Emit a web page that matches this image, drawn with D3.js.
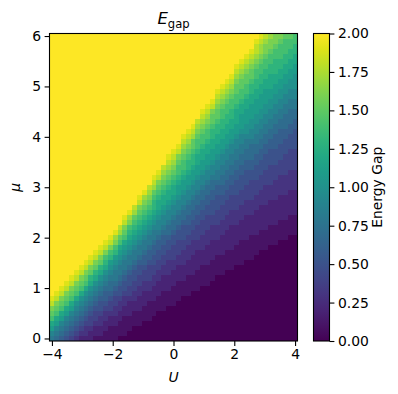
<!DOCTYPE html>
<html>
<head>
<meta charset="utf-8">
<script src="https://cdn.jsdelivr.net/npm/d3@7"></script>
<style>
  body { margin: 0; background: #fff; }
  svg { display: block; font-family: "DejaVu Sans", sans-serif; }
</style>
</head>
<body>
<div id="chart"></div>
<script>
// scan grid: interaction U (columns) and chemical potential mu (rows)
const uValues = [-4, -3.84, -3.68, -3.52, -3.36, -3.2, -3.04, -2.88, -2.72, -2.56, -2.4, -2.24, -2.08,
  -1.92, -1.76, -1.6, -1.44, -1.28, -1.12, -0.96, -0.8, -0.64, -0.48, -0.32, -0.16, 0,
  0.16, 0.32, 0.48, 0.64, 0.8, 0.96, 1.12, 1.28, 1.44, 1.6, 1.76, 1.92, 2.08, 2.24, 2.4,
  2.56, 2.72, 2.88, 3.04, 3.2, 3.36, 3.52, 3.68, 3.84, 4];
const muValues = [0, 0.1, 0.2, 0.3, 0.4, 0.5, 0.6, 0.7, 0.8, 0.9, 1, 1.1, 1.2, 1.3, 1.4, 1.5,
  1.6, 1.7, 1.8, 1.9, 2, 2.1, 2.2, 2.3, 2.4, 2.5, 2.6, 2.7, 2.8, 2.9, 3, 3.1, 3.2, 3.3, 3.4,
  3.5, 3.6, 3.7, 3.8, 3.9, 4, 4.1, 4.2, 4.3, 4.4, 4.5, 4.6, 4.7, 4.8, 4.9, 5, 5.1, 5.2, 5.3,
  5.4, 5.5, 5.6, 5.7, 5.8, 5.9, 6];

// gap, one column per U value, going up in mu.
// darkRows = rows at 0.0 from mu=0, then one char per row
// ("0".."9" = 0.0..0.9, "A".."K" = 1.0..2.0), the rest is saturated at 2.0
const darkRows = [0, 0, 0, 0, 0, 0, 0, 0, 0, 0, 0, 0, 0, 0, 1, 1, 2, 3, 3, 4, 4, 5, 6, 6, 7, 7,
  8, 9, 9, 10, 10, 11, 11, 12, 13, 13, 14, 14, 15, 15, 16, 16, 17, 18, 18, 19, 19, 20, 20, 21, 21];
const rampCodes = [
  "89BCEFGIJ",
  "789BCEFGIJ",
  "6789BCEFGIJ",
  "56789BCEFGIJ",
  "456789BCEFGIJ",
  "3456789ACEFGIJ",
  "23456789ACEFGIJ",
  "233456789ACEFGIJ",
  "2234456789ACDFGIJ",
  "12234456789ACDFGIJ",
  "122334556789ACDFGIJ",
  "1122334566789ACDEGIJ",
  "11122344567789ABDEGIJ",
  "111223344567889ABDEGHJ",
  "111223345567889ABCEFHI",
  "1111223345567889ABCEFGIJ",
  "1112223445567889ABCDEGHJ",
  "1112233445567889ABCDEFHI",
  "11122233445567889ABCDEFGIJ",
  "11122233445667889ABCDEFGHJ",
  "111122334445667889ABCDEFGHI",
  "111222334455667889ABCDDEFHIJ",
  "111222334455667899ABCCDEFGIJ",
  "1111222334455667899ABCCDEFGHI",
  "1112223334455677899ABCCDEFGHIJ",
  "11112223344455677899ABCCDEFGHIJ",
  "11112223344455677899ABBCDEEFGIJ",
  "11122233344555677899ABBCDEEFGHIJ",
  "111122233344556677899ABBCDDEFGHIJ",
  "111222233344556677899ABBCDDEFFHIJ",
  "1111222233444556677899ABBCCDEEFGHI",
  "1111222333444556677899ABBCCDEEFGHIJ",
  "11112222333444556677899ABBCCDEEFGHIJ",
  "11112222333445556677899ABBCCDDEFFGIJ",
  "11112223334445556678899ABBCCDDEFFGHIJ",
  "111122223334445566778899ABBCCDDEEFGHIJ",
  "111122223334445566778899ABBCCDDEEFGHIJ",
  "1111222223334445566778899ABBCCDDEEFGHIJ",
  "1111222233344455566778899ABBCCCDEEFFGHIJ",
  "11111222233344455566778899ABBBCCDEEFFGHIJ",
  "1111222223334445556677889AABBBCCDEEFFGHIJ",
  "11111222233344445566777899AABBBCCDDEFFGHIJ",
  "11112222233344455566778899AABBBCCDDEEFGHIIJ",
  "11112222233344455566778899AABBBCCDDEEFGHHIJ",
  "111122222333344455566778899AABBBCCDDEEFGGHI",
  "111122222333444455566778899AABBCCCDDEEFGGH",
  "1111222223333444555666778899AABBCCDDDEEFGG",
  "1111222223333444555666778899AABBCCDDEEEFG",
  "11112222233334444555667778899AABBCCDDEEEF",
  "11112222233334444555667778899AABBCCDDEEF",
  "11112222233334444555566778899AAABBCCDDEE"
];
const levelChars = "0123456789ABCDEFGHIJK";

const xTicks = [-4, -2, 0, 2, 4];
const yTicks = [0, 1, 2, 3, 4, 5, 6];
const cbarTicks = [0, 0.25, 0.5, 0.75, 1, 1.25, 1.5, 1.75, 2];

// unpack into cells
const cells = [];
uValues.forEach((u, j) => {
  const col = "0".repeat(darkRows[j]) + rampCodes[j];
  muValues.forEach((mu, i) => {
    const ch = i < col.length ? col[i] : "K";
    cells.push({ u: u, mu: mu, gap: levelChars.indexOf(ch) / 10 });
  });
});

const du = uValues[1] - uValues[0];
const dmu = muValues[1] - muValues[0];

const margin = { top: 33.5, left: 49.5 },
    width = 248,
    height = 307.5;
const fontSize = 13.9;

const svg = d3.select("#chart")
  .append("svg")
  .attr("width", 398)
  .attr("height", 394);

const x = d3.scaleLinear()
  .domain([uValues[0] - du / 2, uValues[uValues.length - 1] + du / 2])
  .range([0, width]);
const y = d3.scaleLinear()
  .domain([muValues[0] - dmu / 2, muValues[muValues.length - 1] + dmu / 2])
  .range([height, 0]);
const color = d3.scaleSequential(d3.interpolateViridis).domain([0, 2]);

const g = svg.append("g")
  .attr("transform", "translate(" + margin.left + "," + margin.top + ")");

// heatmap cells
g.append("g")
  .attr("shape-rendering", "crispEdges")
  .selectAll("rect")
  .data(cells)
  .join("rect")
  .attr("x", d => x(d.u - du / 2))
  .attr("y", d => y(d.mu + dmu / 2))
  .attr("width", d => x(d.u + du / 2) - x(d.u - du / 2))
  .attr("height", d => y(d.mu - dmu / 2) - y(d.mu + dmu / 2))
  .attr("fill", d => color(d.gap));

// axes
const xAxis = g.append("g")
  .attr("transform", "translate(0," + height + ")")
  .call(d3.axisBottom(x).tickValues(xTicks).tickSize(4.9).tickPadding(3.5).tickFormat(d3.format("d")));
const yAxis = g.append("g")
  .call(d3.axisLeft(y).tickValues(yTicks).tickSize(4.9).tickPadding(3.5).tickFormat(d3.format("d")));

[xAxis, yAxis].forEach(a => {
  a.select(".domain").remove();
  a.selectAll(".tick line").attr("stroke", "#000").attr("stroke-width", 1.1);
  a.selectAll(".tick text")
    .attr("fill", "#000")
    .style("font-size", fontSize + "px")
    .style("font-family", "DejaVu Sans");
});

g.append("rect")
  .attr("width", width)
  .attr("height", height)
  .attr("fill", "none")
  .attr("stroke", "#000")
  .attr("stroke-width", 1.1);

// title and axis labels
const titleSize = 16.5;
const title = svg.append("text")
  .attr("x", margin.left + width / 2)
  .attr("y", 24)
  .attr("text-anchor", "middle")
  .style("font-size", titleSize + "px");
title.append("tspan").style("font-style", "italic").text("E");
title.append("tspan")
  .attr("dy", 3.5)
  .style("font-size", (titleSize * 0.7) + "px")
  .text("gap");

svg.append("text")
  .attr("x", margin.left + width / 2)
  .attr("y", 382)
  .attr("text-anchor", "middle")
  .style("font-size", fontSize + "px")
  .style("font-style", "italic")
  .text("U");

svg.append("text")
  .attr("transform", "translate(20," + (margin.top + height / 2) + ") rotate(-90)")
  .attr("text-anchor", "middle")
  .style("font-size", fontSize + "px")
  .style("font-style", "italic")
  .text("μ");

// colorbar
const cbar = { left: 313.5, width: 16 };
const cy = d3.scaleLinear().domain([0, 2]).range([height, 0]);

const grad = svg.append("defs").append("linearGradient")
  .attr("id", "viridisGrad")
  .attr("x1", 0).attr("y1", 1).attr("x2", 0).attr("y2", 0);
grad.selectAll("stop")
  .data(d3.range(0, 1.0001, 0.05))
  .join("stop")
  .attr("offset", d => d)
  .attr("stop-color", d => d3.interpolateViridis(d));

const cg = svg.append("g")
  .attr("transform", "translate(" + cbar.left + "," + margin.top + ")");
cg.append("rect")
  .attr("width", cbar.width)
  .attr("height", height)
  .attr("fill", "url(#viridisGrad)");

const cAxis = cg.append("g")
  .attr("transform", "translate(" + cbar.width + ",0)")
  .call(d3.axisRight(cy).tickValues(cbarTicks).tickSize(4.9).tickPadding(3.5).tickFormat(d3.format(".2f")));
cAxis.select(".domain").remove();
cAxis.selectAll(".tick line").attr("stroke", "#000").attr("stroke-width", 1.1);
cAxis.selectAll(".tick text")
  .attr("fill", "#000")
  .style("font-size", fontSize + "px")
  .style("font-family", "DejaVu Sans");

cg.append("rect")
  .attr("width", cbar.width)
  .attr("height", height)
  .attr("fill", "none")
  .attr("stroke", "#000")
  .attr("stroke-width", 1.1);

svg.append("text")
  .attr("transform", "translate(381.5," + (margin.top + height / 2) + ") rotate(-90)")
  .attr("text-anchor", "middle")
  .style("font-size", fontSize + "px")
  .text("Energy Gap");
</script>
</body>
</html>
